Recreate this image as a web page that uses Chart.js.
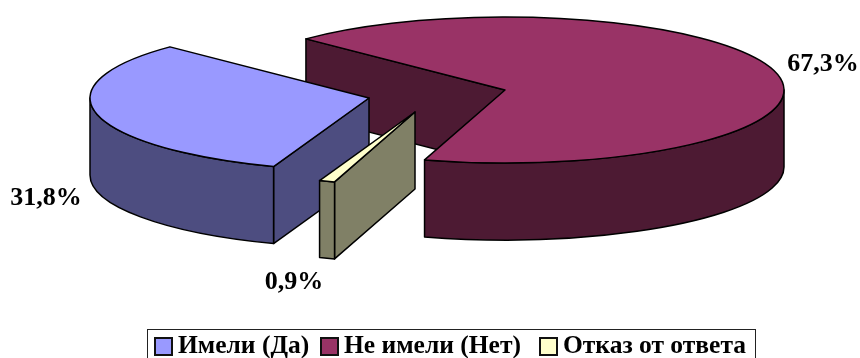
<!DOCTYPE html>
<html lang="ru">
<head>
<meta charset="utf-8">
<title>Имели (Да) / Не имели (Нет)</title>
<script src="https://cdn.jsdelivr.net/npm/chart.js@4"></script>
<style>
  html, body { margin: 0; padding: 0; background: #fff; overflow: hidden; }
  #wrap { position: relative; width: 860px; height: 358px; overflow: hidden; }
  #canvas { position: absolute; left: 0; top: 0; }
  #legend {
    position: absolute; left: 147px; top: 329px; width: 607px; height: 60px;
    border: 1.5px solid #222; box-sizing: content-box;
    font: bold 25.5px "Liberation Serif", serif; color: #000;
  }
  #legend .item { position: absolute; top: 0; display: flex; align-items: center; white-space: nowrap; }
  #legend .box { width: 15px; height: 15px; border: 2px solid #111; margin-right: 5px; margin-top: 2px; }
</style>
</head>
<body>
<div id="wrap">
  <canvas id="canvas" width="860" height="358"></canvas>
  <div id="legend"></div>
</div>
<script>
const categories = ['Имели (Да)', 'Не имели (Нет)', 'Отказ от ответа'];
const shares = [31.8, 67.3, 0.9];
const topColors = ['#9999ff', '#993366', '#ffffcc'];
const sideColors = ['#4d4d80', '#4d1a33', '#808066'];

// slices pulled out of the pie, in px
const pullOut = [[-136, 8], [0, 0], [-90, 22]];
const labelSpots = [[46, 198], [823, 64], [294, 282]];
const legendLeft = [6, 172, 391];
const paintOrder = [1, 0, 2];

const squash = 73 / 279;
const depth = 77;

function drawSlice(ctx, arc, dx, dy, top, side) {
  const { x, y, startAngle, endAngle, outerRadius } = arc.getProps(['x', 'y', 'startAngle', 'endAngle', 'outerRadius'], true);
  const cx = x + dx;
  const cy = y + dy;
  const rx = outerRadius;
  const ry = outerRadius * squash;
  const px = (a) => cx + rx * Math.cos(a);
  const py = (a) => cy + ry * Math.sin(a);

  ctx.lineWidth = 1.5;
  ctx.strokeStyle = '#000';
  ctx.lineJoin = 'round';

  // cut faces, skipping the one that turns away from the viewer
  const cuts = [];
  if (Math.cos(startAngle) < 0) cuts.push(startAngle);
  if (Math.cos(endAngle) > 0) cuts.push(endAngle);
  cuts.forEach((a) => {
    ctx.beginPath();
    ctx.moveTo(cx, cy);
    ctx.lineTo(px(a), py(a));
    ctx.lineTo(px(a), py(a) + depth);
    ctx.lineTo(cx, cy + depth);
    ctx.closePath();
    ctx.fillStyle = side;
    ctx.fill();
    ctx.stroke();
  });

  // front part of the rim: only angles in 0..PI face the viewer
  const turn = Math.PI * 2;
  for (let k = -1; k <= 1; k++) {
    const from = Math.max(startAngle, k * turn);
    const to = Math.min(endAngle, k * turn + Math.PI);
    if (from >= to) continue;
    ctx.beginPath();
    ctx.ellipse(cx, cy, rx, ry, 0, from, to);
    ctx.ellipse(cx, cy + depth, rx, ry, 0, to, from, true);
    ctx.closePath();
    ctx.fillStyle = side;
    ctx.fill();
    ctx.stroke();
  }

  ctx.beginPath();
  ctx.moveTo(cx, cy);
  ctx.ellipse(cx, cy, rx, ry, 0, startAngle, endAngle);
  ctx.closePath();
  ctx.fillStyle = top;
  ctx.fill();
  ctx.stroke();
}

const pie3d = {
  id: 'pie3d',
  beforeDatasetDraw() {
    return false; // flat arcs are replaced by the extruded ones
  },
  afterDatasetsDraw(chart) {
    const ctx = chart.ctx;
    const arcs = chart.getDatasetMeta(0).data;
    ctx.save();
    paintOrder.forEach((i) => {
      drawSlice(ctx, arcs[i], pullOut[i][0], pullOut[i][1], topColors[i], sideColors[i]);
    });
    ctx.fillStyle = '#000';
    ctx.font = 'bold 26px "Liberation Serif", serif';
    ctx.textAlign = 'center';
    ctx.textBaseline = 'middle';
    shares.forEach((v, i) => {
      ctx.fillText(v.toFixed(1).replace('.', ',') + '%', labelSpots[i][0], labelSpots[i][1]);
    });
    ctx.restore();
  },
};

new Chart(document.getElementById('canvas'), {
  type: 'pie',
  plugins: [pie3d],
  data: {
    labels: categories,
    datasets: [{ data: shares, backgroundColor: topColors }],
  },
  options: {
    responsive: false,
    animation: false,
    rotation: -160,
    radius: 279,
    layout: { padding: { left: 150, bottom: 178 } },
    plugins: {
      legend: { display: false },
      tooltip: { enabled: false },
    },
  },
});

const legend = document.getElementById('legend');
categories.forEach((name, i) => {
  const item = document.createElement('div');
  item.className = 'item';
  item.style.left = legendLeft[i] + 'px';
  const box = document.createElement('span');
  box.className = 'box';
  box.style.background = topColors[i];
  item.appendChild(box);
  item.appendChild(document.createTextNode(name));
  legend.appendChild(item);
});
</script>
</body>
</html>
